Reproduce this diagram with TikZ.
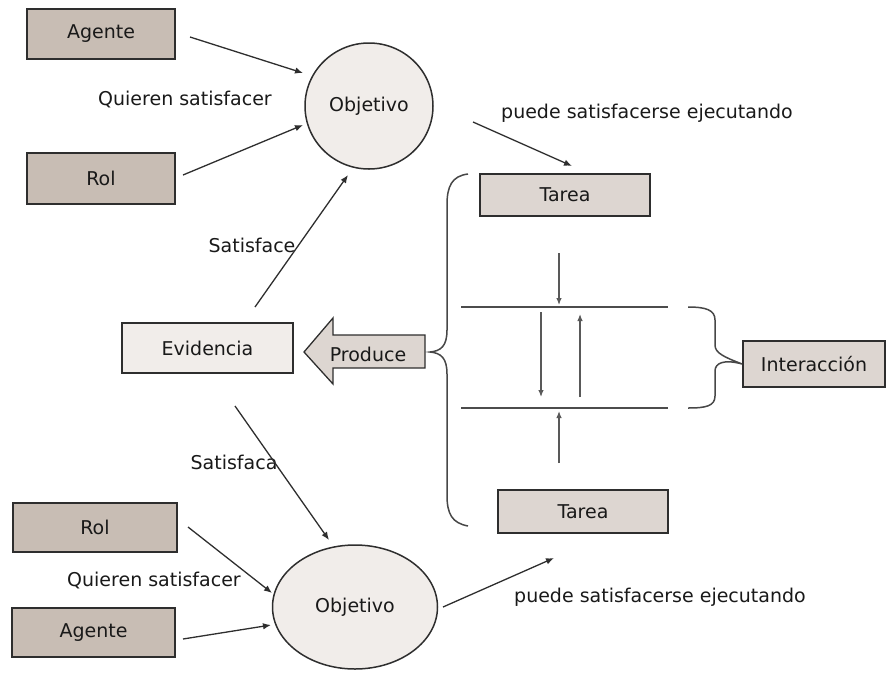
\documentclass[tikz,border=0pt]{standalone}
\usepackage{fontspec}
\setmainfont{DejaVu Sans}
\usetikzlibrary{arrows.meta,shapes.geometric}
\definecolor{boxdark}{HTML}{C8BDB4}
\definecolor{boxmid}{HTML}{DDD6D1}
\definecolor{boxlight}{HTML}{F1EDEA}
\definecolor{inkline}{HTML}{2E2E2E}
\begin{document}
\begin{tikzpicture}[x=1pt,y=-1pt,
  font=\fontsize{19}{22}\selectfont,
  boxbase/.style={draw=inkline, line width=1.8pt, inner sep=0pt, text=black!90},
  darkbox/.style={boxbase, fill=boxdark},
  midbox/.style={boxbase, fill=boxmid},
  lightbox/.style={boxbase, fill=boxlight},
  goal/.style={ellipse, draw=inkline, line width=1.5pt, fill=boxlight, inner sep=0pt, text=black!90},
  lbl/.style={inner sep=0pt, text=black!90},
  arr/.style={draw=inkline, line width=1.3pt, -{Latex[length=8pt,width=6.5pt]}},
  thinarr/.style={draw=black!65, line width=1.2pt, -{Latex[length=7pt,width=5.5pt]}},
  rail/.style={draw=black!70, line width=2.4pt},
  brace/.style={draw=black!72, line width=1.5pt}]
\useasboundingbox (0,0) rectangle (886,673);

% upper goal and its actors
\node[darkbox, minimum width=148pt, minimum height=50pt] (ag1) at (101,34) {Agente};
\node[darkbox, minimum width=148pt, minimum height=51pt] (rol1) at (101,178.5) {Rol};
\node[goal, minimum width=128pt, minimum height=126pt] (obj1) at (369,106) {Objetivo};
\node[lbl] (qs1) at (185,100) {Quieren satisfacer};
\node[lbl] (pse1) at (647,113) {puede satisfacerse ejecutando};

% tasks and interaction
\node[midbox, minimum width=170pt, minimum height=42pt] (tar1) at (565,195) {Tarea};
\node[midbox, minimum width=170pt, minimum height=43pt] (tar2) at (583,511.5) {Tarea};
\node[midbox, minimum width=142pt, minimum height=46pt] (inter) at (814,364) {Interacción};

% evidence
\node[lightbox, minimum width=171pt, minimum height=50pt] (evid) at (207.5,348) {Evidencia};
\node[lbl] (sat1) at (252,245) {Satisface};
\node[lbl] (sat2) at (234,462) {Satisfaca};

% lower goal and its actors
\node[darkbox, minimum width=164pt, minimum height=49pt] (rol2) at (95,527.5) {Rol};
\node[darkbox, minimum width=163pt, minimum height=49pt] (ag2) at (93.5,632.5) {Agente};
\node[goal, minimum width=165pt, minimum height=124pt] (obj2) at (355,607) {Objetivo};
\node[lbl] (qs2) at (154,580) {Quieren satisfacer};
\node[lbl] (pse2) at (660,597) {puede satisfacerse ejecutando};

% free ends of the connectors
\coordinate (ag1s) at (190,37);   \coordinate (ag1e) at (303,73);
\coordinate (rol1s) at (183,175); \coordinate (rol1e) at (303,125);
\coordinate (obj1s) at (473,122); \coordinate (tar1e) at (572,166);
\coordinate (evs1) at (255,307);  \coordinate (obj1b) at (348,175);
\coordinate (evs2) at (235,406);  \coordinate (obj2t) at (329,540);
\coordinate (rol2s) at (188,527); \coordinate (rol2e) at (272,593);
\coordinate (ag2s) at (183,639);  \coordinate (ag2e) at (271,625);
\coordinate (obj2s) at (443,607); \coordinate (obj2e) at (554,558);

\draw[arr] (ag1s) -- (ag1e);
\draw[arr] (rol1s) -- (rol1e);
\draw[arr] (obj1s) -- (tar1e);
\draw[arr] (evs1) -- (obj1b);
\draw[arr] (evs2) -- (obj2t);
\draw[arr] (rol2s) -- (rol2e);
\draw[arr] (ag2s) -- (ag2e);
\draw[arr] (obj2s) -- (obj2e);

% interaction channel
\coordinate (r1a) at (461,307); \coordinate (r1b) at (668,307);
\coordinate (r2a) at (461,408); \coordinate (r2b) at (668,408);
\draw[rail] (r1a) -- (r1b);
\draw[rail] (r2a) -- (r2b);
\coordinate (b1s) at (559,253); \coordinate (b1e) at (559,305);
\coordinate (b2s) at (541,312); \coordinate (b2e) at (541,397);
\coordinate (b3s) at (580,397); \coordinate (b3e) at (580,314);
\coordinate (b4s) at (559,463); \coordinate (b4e) at (559,411);
\draw[thinarr] (b1s) -- (b1e);
\draw[thinarr] (b2s) -- (b2e);
\draw[thinarr] (b3s) -- (b3e);
\draw[thinarr] (b4s) -- (b4e);

% big brace grouping both tasks
\draw[brace] (468,174) .. controls (452,176) and (447,186) .. (447,205)
  -- (447,330) .. controls (447,346) and (441,351) .. (430,352)
  .. controls (441,353) and (447,358) .. (447,374)
  -- (447,495) .. controls (447,514) and (452,523) .. (468,526);

% small brace pointing at the interaction box
\draw[brace] (688,307) .. controls (706,307) and (715,310) .. (715,320)
  -- (715,345) .. controls (715,353) and (724,357) .. (inter.west)
  .. controls (724,359) and (715,363) .. (715,371)
  -- (715,396) .. controls (715,406) and (706,408) .. (688,408);

% block arrow "Produce"
\draw[inkline, line width=1.3pt, fill=boxmid] (304,352) -- (333,318) -- (333,335) -- (425,335)
  -- (425,368) -- (333,368) -- (333,384) -- cycle;
\node[lbl] (prod) at (368,354) {Produce};
\end{tikzpicture}
\end{document}
